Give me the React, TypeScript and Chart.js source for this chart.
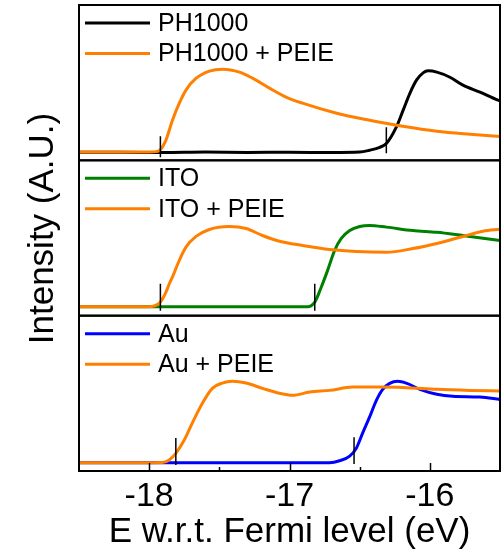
import React, { useEffect, useRef } from "react";
import { Chart, registerables } from "chart.js";

Chart.register(...registerables);

const FONT = "'Liberation Sans', Arial, Helvetica, sans-serif";

// Axis
const X_MIN = -18.5;
const X_MAX = -15.5;
const X_TICK_LABELS = [-18, -17, -16];
const X_MINOR_TICKS = [-17.5, -16.5];
const X_TITLE = "E w.r.t. Fermi level (eV)";
const Y_TITLE = "Intensity (A.U.)";

// Panel 1: PH1000
const PH_LABELS = ["PH1000", "PH1000 + PEIE"];
const PH_E = [-18.5, -18.2, -17.9, -17.6, -17.3, -17.0, -16.7, -16.5, -16.43, -16.357, -16.31, -16.238, -16.19, -16.143, -16.095, -16.048, -16.012, -15.95, -15.857, -15.764, -15.643, -15.514, -15.5];
const PH_VALUES = [5.2, 5.2, 5.0, 5.3, 5.1, 5.2, 5.0, 5.3, 6.5, 8.4, 10.8, 21.5, 32.3, 43.0, 51.6, 56.3, 57.6, 56.8, 53.5, 48.4, 43.9, 38.7, 38.3];
const PH_PEIE_E = [-18.5, -18.0, -17.95, -17.924, -17.881, -17.834, -17.786, -17.738, -17.667, -17.571, -17.476, -17.357, -17.264, -17.143, -17.021, -16.907, -16.664, -16.429, -16.193, -15.95, -15.714, -15.5];
const PH_PEIE_VALUES = [5.4, 5.4, 5.6, 6.5, 12.9, 25.8, 36.6, 45.2, 52.7, 57.4, 58.7, 56.8, 52.9, 46.5, 40.6, 36.8, 30.3, 25.8, 21.9, 18.7, 16.8, 15.4];
const PH_ONSET_E = [-17.92, -16.31];
const PH_ONSET_LOW = [2.0, 4.5];
const PH_ONSET_HIGH = [15.5, 21.3];

// Panel 2: ITO
const ITO_LABELS = ["ITO", "ITO + PEIE"];
const ITO_E = [-18.5, -17.5, -16.871, -16.821, -16.774, -16.729, -16.679, -16.631, -16.571, -16.5, -16.429, -16.309, -16.121, -15.95, -15.764, -15.621, -15.5];
const ITO_VALUES = [5.8, 5.8, 5.8, 8.6, 18.3, 29.0, 41.9, 49.7, 54.8, 57.4, 58.1, 57.0, 54.8, 53.7, 51.6, 49.9, 48.3];
const ITO_PEIE_E = [-18.5, -18.0, -17.964, -17.929, -17.905, -17.881, -17.857, -17.836, -17.786, -17.738, -17.666, -17.571, -17.429, -17.309, -17.193, -17.071, -16.907, -16.714, -16.524, -16.309, -16.121, -15.95, -15.764, -15.621, -15.5];
const ITO_PEIE_VALUES = [5.8, 5.8, 6.3, 7.9, 10.8, 15.0, 20.4, 24.5, 35.5, 44.1, 51.0, 55.5, 57.4, 56.1, 51.6, 47.9, 45.2, 42.6, 41.3, 40.8, 43.2, 46.5, 51.0, 54.4, 55.6];
const ITO_ONSET_E = [-17.92, -16.82];
const ITO_ONSET_LOW = [3.2, 3.2];
const ITO_ONSET_HIGH = [20.6, 20.6];

// Panel 3: Au
const AU_LABELS = ["Au", "Au + PEIE"];
const AU_E = [-18.5, -17.5, -16.714, -16.643, -16.571, -16.524, -16.479, -16.429, -16.381, -16.336, -16.286, -16.229, -16.164, -16.071, -15.95, -15.836, -15.643, -15.5];
const AU_VALUES = [5.3, 5.3, 5.3, 6.6, 9.6, 14.7, 24.4, 34.8, 45.5, 52.6, 56.4, 57.7, 56.4, 52.6, 49.4, 48.1, 47.6, 46.1];
const AU_PEIE_E = [-18.5, -18.0, -17.907, -17.857, -17.809, -17.75, -17.693, -17.621, -17.55, -17.479, -17.407, -17.309, -17.193, -17.071, -16.979, -16.857, -16.714, -16.55, -16.357, -16.193, -15.95, -15.714, -15.5];
const AU_PEIE_VALUES = [5.3, 5.3, 5.4, 7.1, 11.5, 19.9, 30.8, 43.6, 53.2, 56.6, 57.7, 56.6, 53.2, 50.0, 48.7, 50.8, 51.9, 54.0, 54.0, 53.8, 52.6, 51.9, 51.5];
const AU_ONSET_E = [-17.81, -16.54];
const AU_ONSET_LOW = [3.8, 4.5];
const AU_ONSET_HIGH = [21.2, 21.8];

const ORANGE = "rgb(255,128,0)";
const BLACK = "rgb(0,0,0)";
const GREEN = "rgb(0,128,0)";
const BLUE = "rgb(0,0,255)";

const PANELS = [
  { id: "yPH", labels: PH_LABELS, colors: [BLACK, ORANGE] },
  { id: "yITO", labels: ITO_LABELS, colors: [GREEN, ORANGE] },
  { id: "yAu", labels: AU_LABELS, colors: [BLUE, ORANGE] },
];

const pts = (xs: number[], ys: number[]) => xs.map((x, i) => ({ x, y: ys[i] }));

function series(label: string, xs: number[], ys: number[], color: string, yAxisID: string) {
  return {
    label,
    data: pts(xs, ys),
    borderColor: color,
    backgroundColor: color,
    borderWidth: 3,
    pointRadius: 0,
    cubicInterpolationMode: "monotone" as const,
    yAxisID,
    xAxisID: "x",
  };
}

function onsets(xs: number[], lows: number[], highs: number[], yAxisID: string) {
  return xs.map((x, i) => ({
    label: "onset",
    data: [
      { x, y: lows[i] },
      { x, y: highs[i] },
    ],
    borderColor: BLACK,
    borderWidth: 1.5,
    pointRadius: 0,
    yAxisID,
    xAxisID: "x",
  }));
}

const yScale = () => ({
  type: "linear" as const,
  position: "left" as const,
  stack: "panels",
  stackWeight: 1,
  min: 0,
  max: 100,
  ticks: { display: false },
  grid: { display: false, drawTicks: false },
  border: { display: false },
  afterFit: (s: any) => {
    s.width = 79;
  },
});

const panelPlugin = {
  id: "panelDecor",
  afterDraw(chart: any) {
    const ctx = chart.ctx as CanvasRenderingContext2D;
    const { left, right, bottom } = chart.chartArea;
    ctx.save();
    // frames
    ctx.strokeStyle = "#000";
    ctx.lineWidth = 2;
    for (const p of PANELS) {
      const s = chart.scales[p.id];
      ctx.strokeRect(left, s.top, right - left, s.bottom - s.top);
    }
    // x ticks (inward)
    const xs = chart.scales.x;
    ctx.lineWidth = 1.5;
    const tick = (v: number, len: number) => {
      const px = Math.round(xs.getPixelForValue(v)) + 0.5;
      ctx.beginPath();
      ctx.moveTo(px, bottom);
      ctx.lineTo(px, bottom - len);
      ctx.stroke();
    };
    X_TICK_LABELS.forEach((v) => tick(v, 8));
    X_MINOR_TICKS.forEach((v) => tick(v, 4));
    // legends
    ctx.font = `25px ${FONT}`;
    ctx.textBaseline = "middle";
    ctx.textAlign = "left";
    for (const p of PANELS) {
      const s = chart.scales[p.id];
      p.labels.forEach((lab, i) => {
        const y = s.top + 18 + i * 30.5;
        ctx.strokeStyle = p.colors[i];
        ctx.lineWidth = 3;
        ctx.beginPath();
        ctx.moveTo(left + 6, y);
        ctx.lineTo(left + 71, y);
        ctx.stroke();
        ctx.fillStyle = "#000";
        ctx.fillText(lab, left + 79, y + 1);
      });
    }
    // y title
    ctx.translate(43, 228.5);
    ctx.rotate(-Math.PI / 2);
    ctx.textAlign = "center";
    ctx.textBaseline = "middle";
    ctx.font = `35px ${FONT}`;
    ctx.fillStyle = "#000";
    ctx.fillText(Y_TITLE, 0, 0);
    ctx.restore();
  },
};

export default function App() {
  const ref = useRef<HTMLCanvasElement>(null);
  useEffect(() => {
    document.body.style.margin = "0";
    const datasets: any[] = [
      ...onsets(PH_ONSET_E, PH_ONSET_LOW, PH_ONSET_HIGH, "yPH"),
      ...onsets(ITO_ONSET_E, ITO_ONSET_LOW, ITO_ONSET_HIGH, "yITO"),
      ...onsets(AU_ONSET_E, AU_ONSET_LOW, AU_ONSET_HIGH, "yAu"),
      series(PH_LABELS[1], PH_PEIE_E, PH_PEIE_VALUES, ORANGE, "yPH"),
      series(PH_LABELS[0], PH_E, PH_VALUES, BLACK, "yPH"),
      series(ITO_LABELS[1], ITO_PEIE_E, ITO_PEIE_VALUES, ORANGE, "yITO"),
      series(ITO_LABELS[0], ITO_E, ITO_VALUES, GREEN, "yITO"),
      series(AU_LABELS[1], AU_PEIE_E, AU_PEIE_VALUES, ORANGE, "yAu"),
      series(AU_LABELS[0], AU_E, AU_VALUES, BLUE, "yAu"),
    ];
    const chart = new Chart(ref.current as HTMLCanvasElement, {
      type: "line",
      data: { datasets },
      options: {
        animation: false,
        responsive: false,
        devicePixelRatio: 1,
        layout: { padding: { top: 5, right: 4, left: 0, bottom: 0 } },
        plugins: { legend: { display: false }, tooltip: { enabled: false } },
        scales: {
          x: {
            type: "linear",
            position: "bottom",
            min: X_MIN,
            max: X_MAX,
            grid: { display: false, drawTicks: false },
            border: { display: false },
            ticks: {
              color: "#000",
              font: { family: FONT, size: 34 },
              padding: 5,
              autoSkip: false,
              maxRotation: 0,
              callback: (v: any) => String(v),
            },
            afterBuildTicks: (s: any) => {
              s.ticks = X_TICK_LABELS.map((v) => ({ value: v }));
            },
            afterFit: (s: any) => {
              s.height = 81;
            },
            title: {
              display: true,
              text: X_TITLE,
              color: "#000",
              font: { family: FONT, size: 35 },
              padding: { top: 0, bottom: -1 },
            },
          },
          yAu: yScale(),
          yITO: yScale(),
          yPH: yScale(),
        },
      } as any,
      plugins: [panelPlugin],
    });
    return () => chart.destroy();
  }, []);
  return <canvas ref={ref} width={504} height={552} style={{ display: "block" }} />;
}
